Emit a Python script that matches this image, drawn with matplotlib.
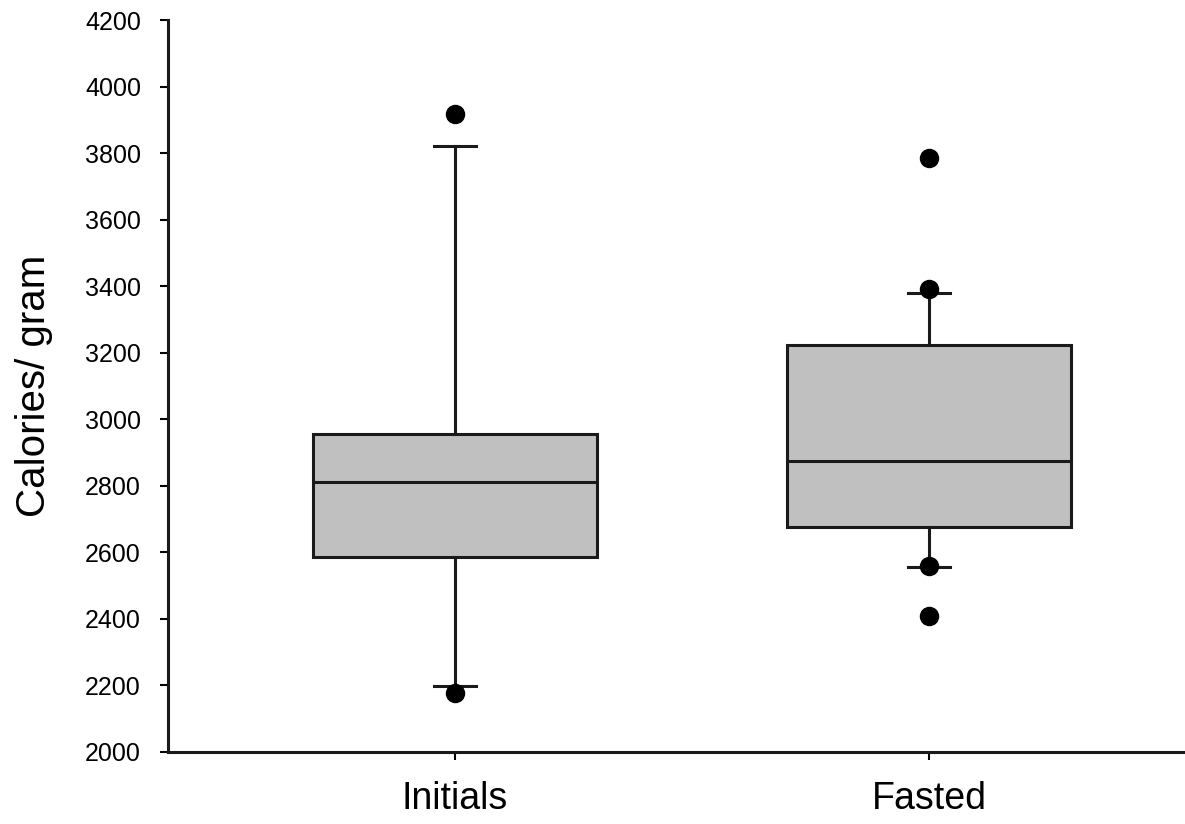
import matplotlib
matplotlib.use("Agg")
import matplotlib.pyplot as plt

# Box summary per group (10th/90th whiskers, points beyond them)
groups = ["Initials", "Fasted"]
q1 = [2586, 2676]
median = [2811, 2874]
q3 = [2956, 3223]
whislo = [2198, 2556]
whishi = [3821, 3379]
fliers = [[3918, 2178], [3786, 3393, 2558, 2409]]

stats = []
for i, name in enumerate(groups):
    stats.append({
        "label": name,
        "q1": q1[i],
        "med": median[i],
        "q3": q3[i],
        "whislo": whislo[i],
        "whishi": whishi[i],
        "fliers": fliers[i],
    })

plt.rcParams['font.family'] = ['Liberation Sans', 'DejaVu Sans']

fig = plt.figure(figsize=(11.85, 8.24), dpi=100)
ax = fig.add_axes([0.1418, 0.0874, 0.8582, 0.8883])

line_col = "#1a1a1a"
ax.bxp(
    stats,
    positions=[1, 2],
    widths=0.601,
    patch_artist=True,
    showfliers=True,
    boxprops=dict(facecolor="#c0c0c0", edgecolor=line_col, linewidth=2.2),
    medianprops=dict(color=line_col, linewidth=2.2),
    whiskerprops=dict(color=line_col, linewidth=2.2),
    capprops=dict(color=line_col, linewidth=2.2),
    capwidths=0.09,
    flierprops=dict(marker="o", markersize=13, markerfacecolor="black",
                    markeredgecolor="black"),
)

ax.set_xlim(0.3945, 2.54)
ax.set_ylim(2000, 4200)
ax.set_yticks(range(2000, 4201, 200))
ax.set_xticks([1, 2])
ax.set_xticklabels(groups, fontsize=27)
ax.tick_params(axis="y", labelsize=18, length=6, width=1.5, pad=13.5)
ax.tick_params(axis="x", length=6, width=1.5, pad=15)

for side in ["top", "right"]:
    ax.spines[side].set_visible(False)
for side in ["left", "bottom"]:
    ax.spines[side].set_linewidth(2.2)
    ax.spines[side].set_color(line_col)

ax.set_ylabel("Calories/ gram", fontsize=29, labelpad=23)

fig.savefig("out.png", dpi=100)
